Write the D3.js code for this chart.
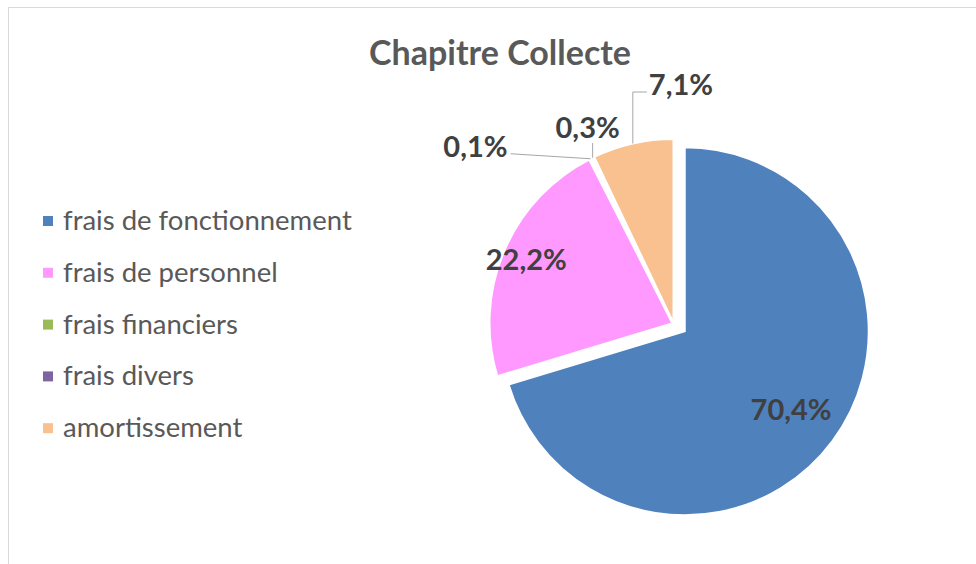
<!DOCTYPE html>
<html>
<head>
<meta charset="utf-8">
<script src="https://cdn.jsdelivr.net/npm/d3@7"></script>
<style>
  body { margin: 0; background: #fff; }
  text { font-family: Lato, "Open Sans", sans-serif; }
</style>
</head>
<body>
<div id="chart"></div>
<script>
const w = 976;
const h = 564;

// data
const categories = ['frais de fonctionnement', 'frais de personnel', 'frais financiers', 'frais divers', 'amortissement'];
const values = [70.4, 22.2, 0.1, 0.3, 7.1];
const labels = ['70,4%', '22,2%', '0,1%', '0,3%', '7,1%'];
const colors = ['#4f81bd', '#ff99ff', '#9bbb59', '#8064a2', '#f9c090'];

const svg = d3.select('#chart')
    .append('svg')
    .attr('width', w)
    .attr('height', h);

// chart border
svg.append('rect')
    .attr('x', 8.5)
    .attr('y', 7.5)
    .attr('width', w + 20)
    .attr('height', h + 20)
    .attr('fill', '#fff')
    .attr('stroke', '#d9d9d9')
    .attr('stroke-width', 1);

svg.append('text')
    .attr('x', 500)
    .attr('y', 65)
    .attr('text-anchor', 'middle')
    .style('font-size', '34px')
    .style('font-weight', 'bold')
    .attr('fill', '#595959')
    .text('Chapitre Collecte');

// legend
const legend = svg.append('g').attr('transform', 'translate(43,221)');
const rows = legend.selectAll('g')
    .data(categories)
    .enter()
    .append('g')
    .attr('transform', (d, i) => 'translate(0,' + (i * 51.8) + ')');
rows.append('rect')
    .attr('x', 0)
    .attr('y', -5)
    .attr('width', 10)
    .attr('height', 10)
    .attr('fill', (d, i) => colors[i]);
rows.append('text')
    .attr('x', 20)
    .attr('y', 9)
    .style('font-size', '27.5px')
    .attr('fill', '#595959')
    .text(d => d);

// pie
const cx = 673.5, cy = 323, r = 184;
const explode = [14, 0, 0, 0, 0];
const pie = d3.pie().sort(null).value(d => d);
const arcs = pie(values);
const arc = d3.arc().innerRadius(0).outerRadius(r);

const dir = a => [Math.sin(a), -Math.cos(a)];
const mid = d => (d.startAngle + d.endAngle) / 2;

const g = svg.append('g').attr('transform', 'translate(' + cx + ',' + cy + ')');
g.selectAll('path')
    .data(arcs)
    .enter()
    .append('path')
    .attr('d', arc)
    .attr('fill', (d, i) => colors[i])
    .attr('stroke', '#fff')
    .attr('stroke-width', d => d.value < 1 ? 4 : 2)
    .attr('transform', (d, i) => {
        const u = dir(mid(d));
        return 'translate(' + u[0] * explode[i] + ',' + u[1] * explode[i] + ')';
    });

const labelStyle = sel => sel
    .style('font-size', '29px')
    .style('font-weight', 'bold')
    .attr('fill', '#404040');

// inside labels
const inside = [[0, 0.72], [1, 0.87]];
inside.forEach(([i, k]) => {
    const u = dir(mid(arcs[i]));
    const rr = r * k + explode[i];
    g.append('text')
        .attr('x', u[0] * rr)
        .attr('y', u[1] * rr + 10)
        .attr('text-anchor', 'middle')
        .call(labelStyle)
        .text(labels[i]);
});

// outside labels with leader lines
const anchor = i => {
    const u = dir(mid(arcs[i]));
    return [u[0] * r, u[1] * r];
};
const line = d3.line();

// 7,1%
let p = anchor(4);
g.append('path')
    .attr('d', line([p, [p[0], -231], [p[0] + 14, -231]]))
    .attr('fill', 'none').attr('stroke', '#a6a6a6').attr('stroke-width', 1);
g.append('text')
    .attr('x', p[0] + 16).attr('y', -228)
    .call(labelStyle).text(labels[4]);

// 0,3%
p = anchor(3);
g.append('path')
    .attr('d', line([p, [p[0], -180]]))
    .attr('fill', 'none').attr('stroke', '#a6a6a6').attr('stroke-width', 1);
g.append('text')
    .attr('x', p[0] - 5).attr('y', -185)
    .attr('text-anchor', 'middle')
    .call(labelStyle).text(labels[3]);

// 0,1%
p = anchor(2);
g.append('path')
    .attr('d', line([p, [p[0] - 80, p[1] - 5]]))
    .attr('fill', 'none').attr('stroke', '#a6a6a6').attr('stroke-width', 1);
g.append('text')
    .attr('x', p[0] - 83).attr('y', p[1] - 2)
    .attr('text-anchor', 'end')
    .call(labelStyle).text(labels[2]);
</script>
</body>
</html>
